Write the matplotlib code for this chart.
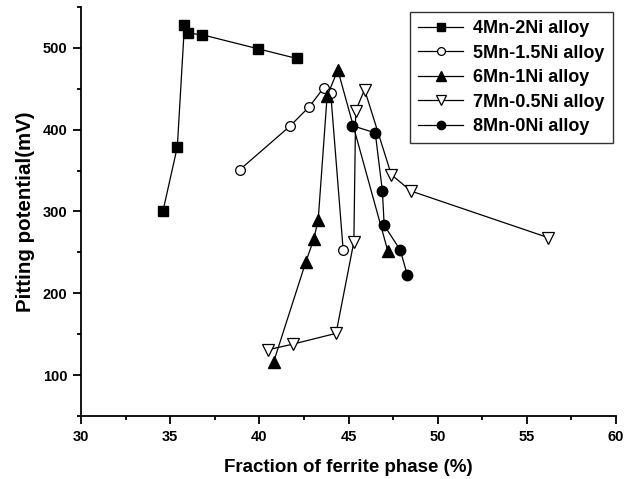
import matplotlib
matplotlib.use("Agg")
import matplotlib.pyplot as plt
from matplotlib.ticker import MultipleLocator

plt.rcParams['font.family'] = ['Liberation Sans', 'DejaVu Sans']
plt.rcParams['font.weight'] = 'bold'

# ferrite fraction (%) and pitting potential (mV) for each alloy
x_4mn = [34.6, 35.4, 35.8, 36.0, 36.8, 39.9, 42.1]
y_4mn = [301, 379, 528, 518, 516, 499, 487]

x_5mn = [38.9, 41.7, 42.8, 43.6, 44.0, 44.7]
y_5mn = [351, 404, 428, 451, 445, 253]

x_6mn = [40.8, 42.6, 43.05, 43.3, 43.8, 44.4, 47.2]
y_6mn = [116, 238, 266, 290, 441, 473, 252]

x_7mn = [40.5, 41.9, 44.3, 45.3, 45.4, 45.9, 47.4, 48.5, 56.2]
y_7mn = [131, 138, 151, 263, 423, 449, 345, 325, 268]

x_8mn = [45.2, 46.5, 46.9, 47.0, 47.9, 48.3]
y_8mn = [405, 396, 325, 283, 253, 222]

fig = plt.figure(figsize=(6.35, 4.79), dpi=100)
ax = fig.add_axes([0.1276, 0.1315, 0.8425, 0.854])

ax.plot(x_4mn, y_4mn, color='black', lw=0.9, marker='s', ms=6.5,
        mfc='black', mec='black', label='4Mn-2Ni alloy')
ax.plot(x_5mn, y_5mn, color='black', lw=0.9, marker='o', ms=7,
        mfc='white', mec='black', mew=0.9, label='5Mn-1.5Ni alloy')
ax.plot(x_6mn, y_6mn, color='black', lw=0.9, marker='^', ms=8.5,
        mfc='black', mec='black', label='6Mn-1Ni alloy')
ax.plot(x_7mn, y_7mn, color='black', lw=0.9, marker='v', ms=8.5,
        mfc='white', mec='black', mew=0.9, label='7Mn-0.5Ni alloy')
ax.plot(x_8mn, y_8mn, color='black', lw=0.9, marker='o', ms=7.5,
        mfc='black', mec='black', label='8Mn-0Ni alloy')

ax.set_xlim(30, 60)
ax.set_ylim(50, 550)
ax.xaxis.set_major_locator(MultipleLocator(5))
ax.xaxis.set_minor_locator(MultipleLocator(2.5))
ax.yaxis.set_major_locator(MultipleLocator(100))
ax.yaxis.set_minor_locator(MultipleLocator(50))
ax.set_yticks([100, 200, 300, 400, 500])

for side in ['top', 'right']:
    ax.spines[side].set_visible(False)
for side in ['left', 'bottom']:
    ax.spines[side].set_linewidth(1.3)

ax.tick_params(which='major', direction='out', length=6, width=1.3,
               labelsize=10.5, pad=4)
ax.tick_params(which='minor', direction='out', length=3, width=1.3)

ax.set_xlabel('Fraction of ferrite phase (%)', fontsize=13.5, fontweight='bold', labelpad=11)
ax.set_ylabel('Pitting potential(mV)', fontsize=14.8, fontweight='bold', labelpad=5)

leg = ax.legend(loc='upper right', bbox_to_anchor=(0.994, 0.988), fontsize=13,
                frameon=True, fancybox=False, edgecolor='black',
                handlelength=2.5, handletextpad=0.55, labelspacing=0.42,
                borderpad=0.45, borderaxespad=0, markerscale=0.8)
leg.get_frame().set_linewidth(1.0)

fig.savefig('out.png', dpi=100)
